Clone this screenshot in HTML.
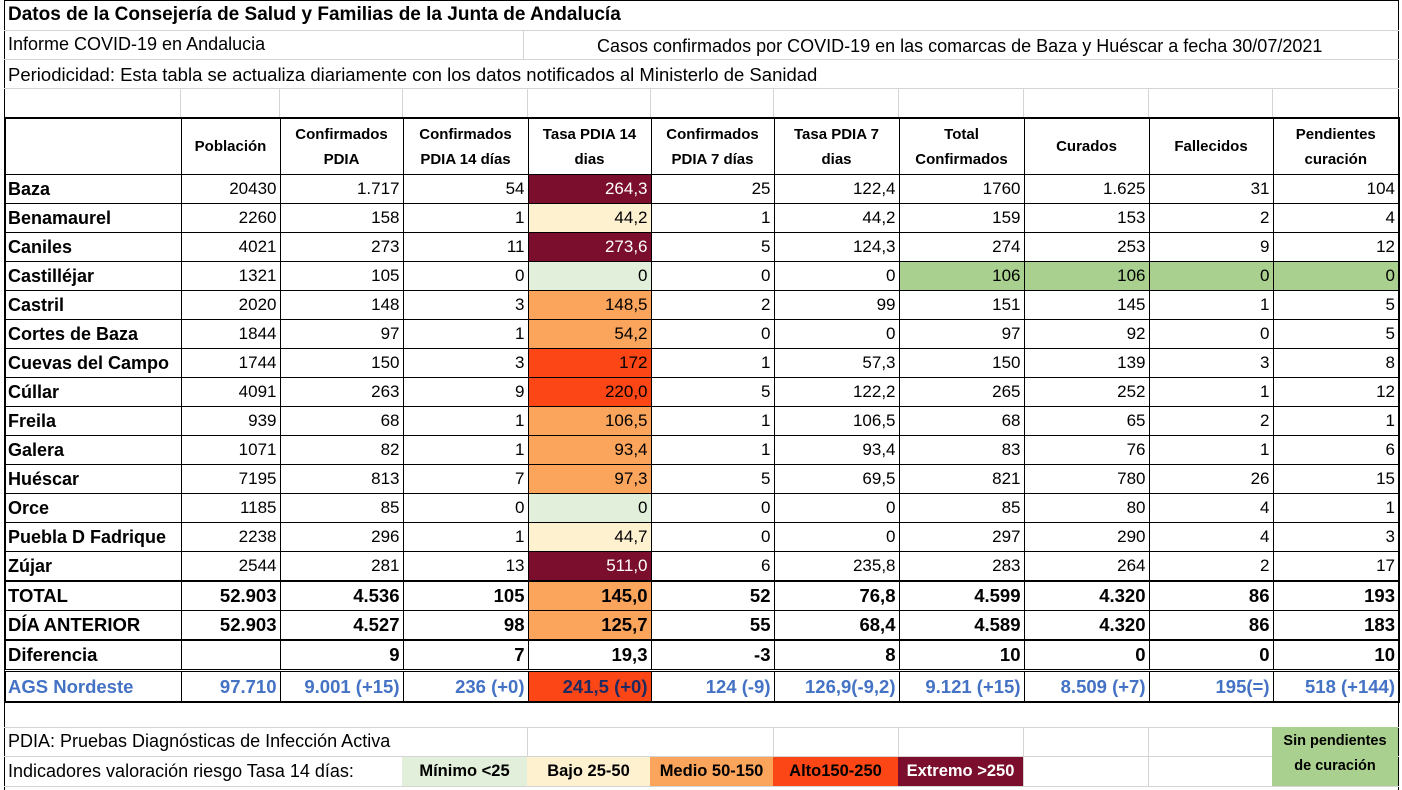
<!DOCTYPE html>
<html><head><meta charset="utf-8"><style>
body{margin:0;width:1402px;height:790px;background:#fff;position:relative;overflow:hidden;font-family:"Liberation Sans",Arial,sans-serif;color:#000}
.a{position:absolute;white-space:nowrap}
.h{position:absolute;height:1px;background:#d4d4d4}
.v{position:absolute;width:1px;background:#d4d4d4}
table{position:absolute;left:4px;top:117px;border-collapse:collapse;table-layout:fixed;border:2px solid #000}
td{border:1px solid #000;padding:0 3px;font-size:17px;text-align:right;overflow:hidden;white-space:nowrap;height:28px;line-height:28px}
td:first-child{text-align:left;font-weight:bold;font-size:18px;padding-left:2px}
tr.hd td{font-size:15px;font-weight:bold;text-align:center;line-height:25px;white-space:nowrap;height:55px}
tr.b td{font-weight:bold;font-size:18.5px}
tr.t td{border-top:2px solid #000}
tr.d td{border-top:2px solid #000;border-bottom:2px solid #000}
tr.g td{border-top:3px double #000;color:#4472c4;font-weight:bold;height:29px;font-size:18.5px}
.x{background:#7b0e2d;color:#fff}.m{background:#fba45c}.al{background:#fd4616}.bj{background:#fef1d0}.mn{background:#e2efda}.gr{background:#a9d08e}
.lg{position:absolute;top:757px;height:29px;line-height:29px;font-size:16.5px;font-weight:bold;text-align:center;white-space:nowrap}
</style></head><body>
<div class="v" style="left:4px;top:0;height:790px;background:#000"></div>
<div class="v" style="left:1398px;top:0;height:790px;background:#000"></div>
<div class="h" style="left:4px;top:0;width:1395px;background:#000"></div>
<div class="h" style="left:4px;top:30px;width:1395px"></div>
<div class="h" style="left:4px;top:59px;width:1395px"></div>
<div class="h" style="left:4px;top:88px;width:1395px"></div>
<div class="v" style="left:523px;top:30px;height:29px"></div>
<div class="v" style="left:180px;top:88px;height:29px"></div><div class="v" style="left:279px;top:88px;height:29px"></div><div class="v" style="left:402px;top:88px;height:29px"></div><div class="v" style="left:527px;top:88px;height:29px"></div><div class="v" style="left:650px;top:88px;height:29px"></div><div class="v" style="left:773px;top:88px;height:29px"></div><div class="v" style="left:898px;top:88px;height:29px"></div><div class="v" style="left:1023px;top:88px;height:29px"></div><div class="v" style="left:1148px;top:88px;height:29px"></div><div class="v" style="left:1272px;top:88px;height:29px"></div>
<div class="a" style="left:8px;top:4px;font-size:19px;font-weight:bold">Datos de la Consejería de Salud y Familias de la Junta de Andalucía</div>
<div class="a" style="left:8px;top:34px;font-size:18px">Informe COVID-19 en Andalucia</div>
<div class="a" style="left:597px;top:36px;font-size:18px">Casos confirmados por COVID-19 en las comarcas de Baza y Huéscar a fecha 30/07/2021</div>
<div class="a" style="left:8px;top:64px;font-size:18.5px">Periodicidad: Esta tabla se actualiza diariamente con los datos notificados al Ministerlo de Sanidad</div>
<table>
<colgroup><col style="width:176px"><col style="width:99px"><col style="width:123px"><col style="width:125px"><col style="width:123px"><col style="width:123px"><col style="width:125px"><col style="width:125px"><col style="width:125px"><col style="width:124px"><col style="width:126px"></colgroup>
<tr class="hd"><td></td><td>Población</td><td>Confirmados<br>PDIA</td><td>Confirmados<br>PDIA 14 días</td><td>Tasa PDIA 14<br>dias</td><td>Confirmados<br>PDIA 7 días</td><td>Tasa PDIA 7<br>dias</td><td>Total<br>Confirmados</td><td>Curados</td><td>Fallecidos</td><td>Pendientes<br>curación</td></tr>
<tr><td>Baza</td><td>20430</td><td>1.717</td><td>54</td><td class="x">264,3</td><td>25</td><td>122,4</td><td>1760</td><td>1.625</td><td>31</td><td>104</td></tr>
<tr><td>Benamaurel</td><td>2260</td><td>158</td><td>1</td><td class="bj">44,2</td><td>1</td><td>44,2</td><td>159</td><td>153</td><td>2</td><td>4</td></tr>
<tr><td>Caniles</td><td>4021</td><td>273</td><td>11</td><td class="x">273,6</td><td>5</td><td>124,3</td><td>274</td><td>253</td><td>9</td><td>12</td></tr>
<tr><td>Castilléjar</td><td>1321</td><td>105</td><td>0</td><td class="mn">0</td><td>0</td><td>0</td><td class="gr">106</td><td class="gr">106</td><td class="gr">0</td><td class="gr">0</td></tr>
<tr><td>Castril</td><td>2020</td><td>148</td><td>3</td><td class="m">148,5</td><td>2</td><td>99</td><td>151</td><td>145</td><td>1</td><td>5</td></tr>
<tr><td>Cortes de Baza</td><td>1844</td><td>97</td><td>1</td><td class="m">54,2</td><td>0</td><td>0</td><td>97</td><td>92</td><td>0</td><td>5</td></tr>
<tr><td>Cuevas del Campo</td><td>1744</td><td>150</td><td>3</td><td class="al">172</td><td>1</td><td>57,3</td><td>150</td><td>139</td><td>3</td><td>8</td></tr>
<tr><td>Cúllar</td><td>4091</td><td>263</td><td>9</td><td class="al">220,0</td><td>5</td><td>122,2</td><td>265</td><td>252</td><td>1</td><td>12</td></tr>
<tr><td>Freila</td><td>939</td><td>68</td><td>1</td><td class="m">106,5</td><td>1</td><td>106,5</td><td>68</td><td>65</td><td>2</td><td>1</td></tr>
<tr><td>Galera</td><td>1071</td><td>82</td><td>1</td><td class="m">93,4</td><td>1</td><td>93,4</td><td>83</td><td>76</td><td>1</td><td>6</td></tr>
<tr><td>Huéscar</td><td>7195</td><td>813</td><td>7</td><td class="m">97,3</td><td>5</td><td>69,5</td><td>821</td><td>780</td><td>26</td><td>15</td></tr>
<tr><td>Orce</td><td>1185</td><td>85</td><td>0</td><td class="mn">0</td><td>0</td><td>0</td><td>85</td><td>80</td><td>4</td><td>1</td></tr>
<tr><td>Puebla D Fadrique</td><td>2238</td><td>296</td><td>1</td><td class="bj">44,7</td><td>0</td><td>0</td><td>297</td><td>290</td><td>4</td><td>3</td></tr>
<tr><td>Zújar</td><td>2544</td><td>281</td><td>13</td><td class="x">511,0</td><td>6</td><td>235,8</td><td>283</td><td>264</td><td>2</td><td>17</td></tr>
<tr class="b t"><td>TOTAL</td><td>52.903</td><td>4.536</td><td>105</td><td class="m">145,0</td><td>52</td><td>76,8</td><td>4.599</td><td>4.320</td><td>86</td><td>193</td></tr>
<tr class="b"><td>DÍA ANTERIOR</td><td>52.903</td><td>4.527</td><td>98</td><td class="m">125,7</td><td>55</td><td>68,4</td><td>4.589</td><td>4.320</td><td>86</td><td>183</td></tr>
<tr class="b d"><td>Diferencia</td><td></td><td>9</td><td>7</td><td>19,3</td><td>-3</td><td>8</td><td>10</td><td>0</td><td>0</td><td>10</td></tr>
<tr class="g"><td>AGS Nordeste</td><td>97.710</td><td>9.001 (+15)</td><td>236 (+0)</td><td class="al" style="color:#1f2a60">241,5 (+0)</td><td>124 (-9)</td><td>126,9(-9,2)</td><td>9.121 (+15)</td><td>8.509 (+7)</td><td>195(=)</td><td>518 (+144)</td></tr>
</table>
<div class="h" style="left:4px;top:727px;width:1395px"></div>
<div class="h" style="left:4px;top:756px;width:1395px"></div>
<div class="h" style="left:4px;top:786px;width:1395px"></div>
<div class="v" style="left:527px;top:727px;height:29px"></div><div class="v" style="left:773px;top:727px;height:29px"></div><div class="v" style="left:898px;top:727px;height:29px"></div><div class="v" style="left:1023px;top:727px;height:60px"></div><div class="v" style="left:1148px;top:727px;height:60px"></div>
<div class="a" style="left:8px;top:731px;font-size:18px">PDIA: Pruebas Diagnósticas de Infección Activa</div>
<div class="a" style="left:8px;top:761px;font-size:18px">Indicadores valoración riesgo Tasa 14 días:</div>
<div class="lg mn" style="left:402px;width:125px">Mínimo &lt;25</div>
<div class="lg bj" style="left:527px;width:123px">Bajo 25-50</div>
<div class="lg m" style="left:650px;width:123px">Medio 50-150</div>
<div class="lg al" style="left:773px;width:125px">Alto150-250</div>
<div class="lg x" style="left:898px;width:125px">Extremo &gt;250</div>
<div class="a gr" style="left:1272px;top:727px;width:126px;height:59px;font-size:14.5px;font-weight:bold;text-align:center;line-height:25px;padding-top:2px;box-sizing:border-box">Sin pendientes<br>de curación</div>
</body></html>
